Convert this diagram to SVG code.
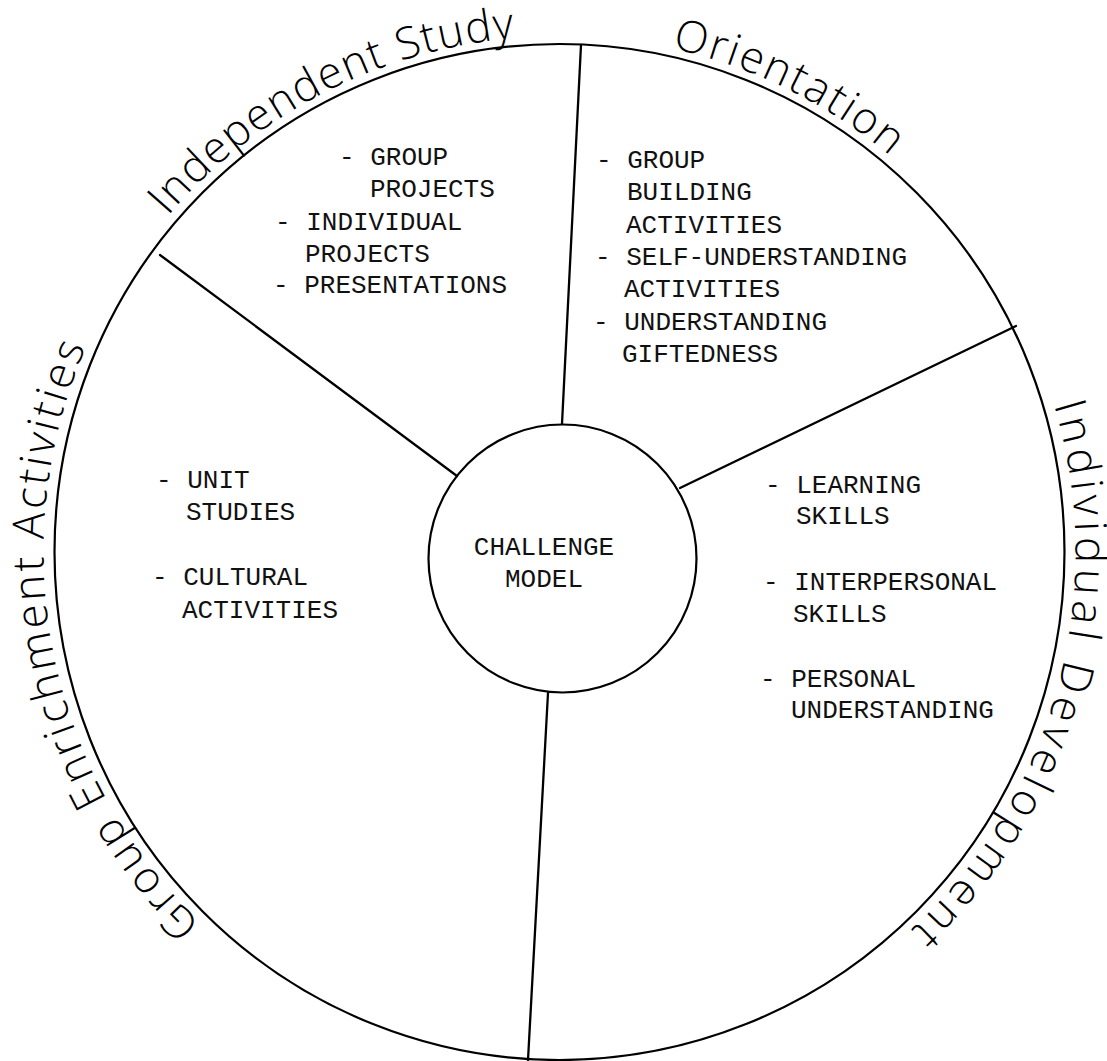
<svg xmlns="http://www.w3.org/2000/svg" xmlns:xlink="http://www.w3.org/1999/xlink" width="1107" height="1061" viewBox="0 0 1107 1061">
  <style>
    .rim { fill: none; stroke: #000; stroke-width: 2.2; }
    .divider { stroke: #000; stroke-width: 2.3; stroke-linecap: round; }
    .item { font-family: "Liberation Mono", "DejaVu Sans Mono", monospace; font-size: 26px; fill: #111; }
    .hand { font-family: "Open Sans", "Lato", "Liberation Sans", sans-serif; font-weight: 300; font-size: 44px; fill: #000; }
  </style>
  <defs>
    <!-- clockwise ring for the sector titles, starting at the bottom -->
    <path id="ring" d="M 559.5 1068 A 516 516 0 1 1 559.5 36 A 516 516 0 1 1 559.5 1068"/>
  </defs>
  <rect width="1107" height="1061" fill="#fff"/>

  <!-- outer wheel -->
  <ellipse class="rim" cx="559.5" cy="552" rx="505" ry="508"/>

  <!-- spokes between the sectors -->
  <g id="connectors">
    <line class="divider" x1="562" y1="424" x2="581" y2="45"/>
    <line class="divider" x1="457" y1="476" x2="160" y2="255"/>
    <line class="divider" x1="680" y1="488" x2="1016" y2="326"/>
    <line class="divider" x1="548" y1="693" x2="528" y2="1060"/>
  </g>

  <!-- hub -->
  <g id="challenge-model">
    <circle class="rim" cx="562.5" cy="558.5" r="134"/>
    <text class="item" x="544" y="555" text-anchor="middle">CHALLENGE</text>
    <text class="item" x="544" y="587" text-anchor="middle">MODEL</text>
  </g>

  <g id="independent-study">
    <text class="hand"><textPath xlink:href="#ring" startOffset="1176" textLength="400" lengthAdjust="spacing">Independent Study</textPath></text>
    <text class="item" x="339" y="165">- GROUP</text>
    <text class="item" x="370" y="197">PROJECTS</text>
    <text class="item" x="275" y="230">- INDIVIDUAL</text>
    <text class="item" x="305" y="262">PROJECTS</text>
    <text class="item" x="273" y="293">- PRESENTATIONS</text>
  </g>

  <g id="orientation">
    <text class="hand"><textPath xlink:href="#ring" startOffset="1734" textLength="246" lengthAdjust="spacing">Orientation</textPath></text>
    <text class="item" x="596" y="168">- GROUP</text>
    <text class="item" x="627" y="200">BUILDING</text>
    <text class="item" x="626" y="233">ACTIVITIES</text>
    <text class="item" x="595" y="265">- SELF-UNDERSTANDING</text>
    <text class="item" x="624" y="297">ACTIVITIES</text>
    <text class="item" x="593" y="330">- UNDERSTANDING</text>
    <text class="item" x="622" y="362">GIFTEDNESS</text>
  </g>

  <g id="individual-development">
    <text class="hand"><textPath xlink:href="#ring" startOffset="2282" textLength="574" lengthAdjust="spacing">Individual Development</textPath></text>
    <text class="item" x="765" y="493">- LEARNING</text>
    <text class="item" x="796" y="524">SKILLS</text>
    <text class="item" x="763" y="590">- INTERPERSONAL</text>
    <text class="item" x="793" y="622">SKILLS</text>
    <text class="item" x="760" y="687">- PERSONAL</text>
    <text class="item" x="791" y="718">UNDERSTANDING</text>
  </g>

  <g id="group-enrichment">
    <text class="hand"><textPath xlink:href="#ring" startOffset="396" textLength="625" lengthAdjust="spacing">Group Enrichment Activities</textPath></text>
    <text class="item" x="156" y="488">- UNIT</text>
    <text class="item" x="186" y="520">STUDIES</text>
    <text class="item" x="152" y="585">- CULTURAL</text>
    <text class="item" x="182" y="618">ACTIVITIES</text>
  </g>
</svg>
